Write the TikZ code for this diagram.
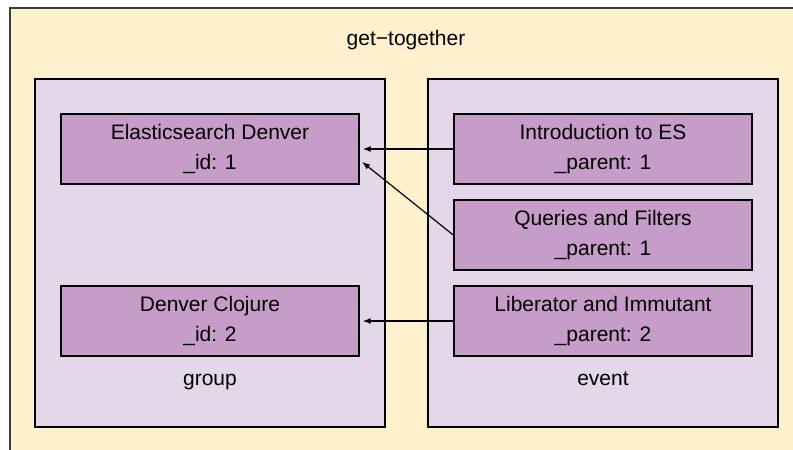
\documentclass[tikz,border=0pt]{standalone}
\usepackage{fontspec}
\setmainfont{Liberation Sans}
\usetikzlibrary{arrows.meta,calc}
\definecolor{cream}{RGB}{255,240,206}
\definecolor{lav}{RGB}{228,215,233}
\definecolor{plum}{RGB}{198,157,200}
\definecolor{frame}{RGB}{60,60,60}
\begin{document}
\begin{tikzpicture}[x=0.75pt,y=-0.75pt,
  every node/.style={font=\fontsize{15.75}{22.5}\selectfont, inner sep=0pt},
  container/.style={draw=black, line width=1.1pt, fill=lav},
  doc/.style={draw=black, line width=1.1pt, fill=plum, minimum width=223.5pt, minimum height=52.5pt, align=center},
  lbl/.style={anchor=base},
  arr/.style={-{Latex[length=6pt,width=4.5pt]}, line width=0.9pt, shorten >=2.25pt}]
\useasboundingbox (0,0) rectangle (793,450);
\fill[cream] (10,8) rectangle (793,450);
\draw[frame, line width=1.6pt] (793,8) -- (10,8) -- (10,450);
\node[lbl] (title) at (406,45) {get−together};
\draw[container] (35,79) rectangle (385,427);
\draw[container] (428,79) rectangle (778,427);
\node[lbl] (group) at (210,385) {group};
\node[lbl] (event) at (603,385) {event};
\node[doc] (es) at (210,149) {Elasticsearch Denver\\\_id: 1};
\node[doc] (clj) at (210,321) {Denver Clojure\\\_id: 2};
\node[doc] (intro) at (603,149) {Introduction to ES\\\_parent: 1};
\node[doc] (qf) at (603,235) {Queries and Filters\\\_parent: 1};
\node[doc] (lib) at (603,321) {Liberator and Immutant\\\_parent: 2};
\draw[arr] (intro.west) -- (es.east);
\draw[arr] (qf.west) -- ($(es.east)+(0,11)$);
\draw[arr] (lib.west) -- (clj.east);
\end{tikzpicture}
\end{document}
